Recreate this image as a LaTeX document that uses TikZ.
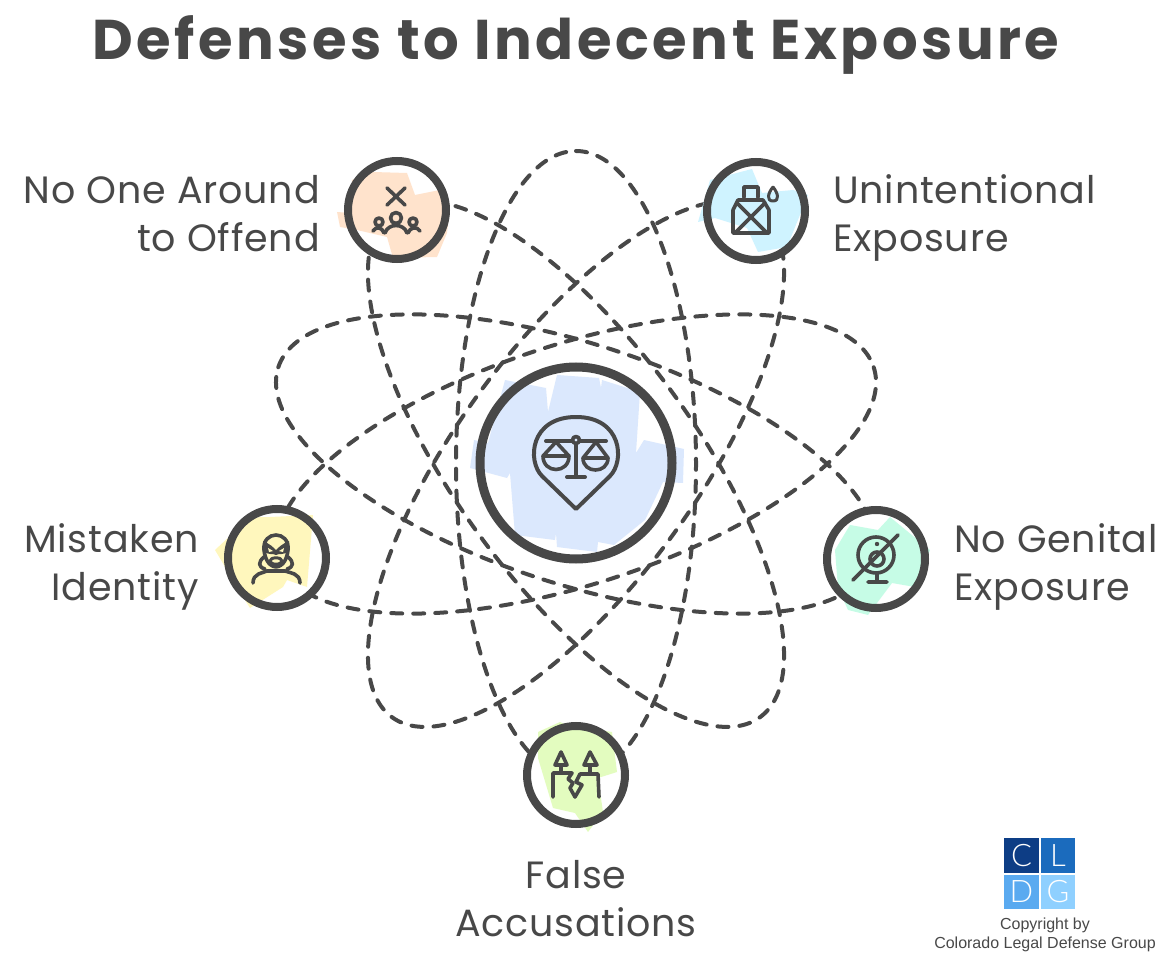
\documentclass[tikz,border=0pt]{standalone}
\usepackage{fontspec}
\setmainfont{Poppins}
\newfontfamily\logofont{Liberation Sans}
\newfontfamily\cellfont{Lato Light}
\usetikzlibrary{positioning}
\definecolor{ink}{HTML}{484848}
\definecolor{hubtone}{HTML}{DBE8FD}
\definecolor{crowdtone}{HTML}{FFE3CC}
\definecolor{bottletone}{HTML}{CFF3FF}
\definecolor{masktone}{HTML}{FFF7BD}
\definecolor{webcamtone}{HTML}{C6FCE6}
\definecolor{crackedtone}{HTML}{E3FCBF}
\tikzset{
  orbit/.style={draw=ink,line width=4pt,line cap=round,dash pattern=on 11pt off 11pt},
  ring/.style={draw=ink,circle,inner sep=0pt,line width=8pt},
  icon/.style={draw=ink,line width=3.6pt,line cap=round,line join=round},
  caption/.style={text=ink,inner sep=0pt,font=\fontsize{38}{48}\selectfont\addfontfeature{LetterSpace=2.2}},
  logocell/.style={minimum size=34.5pt,inner sep=0pt,text=white,font=\cellfont\fontsize{31}{31}\selectfont}
}
\begin{document}
\begin{tikzpicture}[x=1pt,y=-1pt]
  \useasboundingbox (0,0) rectangle (1170,957);
  \coordinate (centre) at (576,464);
  \def \Spots{
    hub/576/463/192/9,
    crowd/397/210/98/8,
    bottle/756/211/98/8,
    mask/277/558/98/8,
    webcam/876/559/98/8,
    cracked/576/775/98/8}
  \foreach \ang in {18,54,90,126,162}{
    \draw[orbit,rotate around={\ang:(centre)}] (centre) ellipse (313 and 120);
  }
  \foreach \id / \x / \y / \d / \w in \Spots{
    \fill[white] (\x,\y) circle (\d/2);
  }
  \fill[hubtone] (505,380) -- (546,388) -- (548,412) -- (557,375) -- (599,378) -- (601,388) -- (602,380) -- (640,392) -- (636,453) -- (644,440) -- (684,449) -- (683,483) -- (663,482) -- (645,520) -- (614,545) -- (598,542) -- (597,552) -- (557,547) -- (556,533) -- (555,540) -- (515,535) -- (510,473) -- (507,478) -- (470,468) -- (474,440) -- (488,443) -- cycle;
  \fill[crowdtone] (373,172) -- (407,173) -- (415,195) -- (445,189) -- (450,207) -- (447,233) -- (437,257) -- (393,258) -- (387,237) -- (357,230) -- (340,227) -- (337,212) -- (350,213) -- (352,180) -- cycle;
  \fill[bottletone] (752,169) -- (762,193) -- (793,190) -- (808,195) -- (787,247) -- (758,252) -- (747,228) -- (715,218) -- (698,222) -- (710,180) -- cycle;
  \fill[masktone] (215,550) -- (247,520) -- (260,517) -- (270,517) -- (313,515) -- (307,587) -- (287,580) -- (283,587) -- (250,608) -- (243,597) -- cycle;
  \fill[webcamtone] (850,525) -- (878,530) -- (890,517) -- (930,550) -- (915,587) -- (892,583) -- (868,615) -- (848,610) -- (838,588) -- (835,550) -- cycle;
  \fill[crackedtone] (538,732) -- (560,722) -- (567,725) -- (612,732) -- (617,772) -- (598,778) -- (603,812) -- (588,832) -- (575,813) -- (553,808) -- (538,758) -- cycle;
  \foreach \id / \x / \y / \d / \w in \Spots{
    \node[ring,minimum size=\d pt,line width=\w pt] (\id) at (\x,\y) {};
  }
  % hub
  \draw[icon,line width=4pt] (576,509) -- (542,476) .. controls (527,461) and (530,417) .. (576,417) .. controls (622,417) and (625,461) .. (610,476) -- cycle;
  \draw[icon,line width=4pt] (546,441) -- (606,441) (576,444) -- (576,477) (567,477) -- (585,477);
  \draw[icon,fill=hubtone] (576,440) circle (3.5);
  \draw[icon] (543,456) -- (556,442) -- (569,456) (583,458) -- (596,442) -- (608,458);
  \draw[icon] (543,456) -- (569,456) .. controls (569,474) and (543,474) .. (543,456);
  \draw[icon] (583,458) -- (608,458) .. controls (608,474) and (583,474) .. (583,458);
  % crowd
  \draw[icon] (387,188) -- (405,205) (405,188) -- (387,205);
  \draw[icon] (396,218) circle (5.5) (379,222) circle (4) (413,222) circle (4);
  \draw[icon] (373,231) .. controls (376,226) and (382,227) .. (384,233) (385,233) .. controls (388,223) and (404,223) .. (407,233) (408,233) .. controls (410,227) and (417,226) .. (420,231);
  % bottle
  \draw[icon] (744,197) -- (744,187) -- (758,187) -- (758,197);
  \draw[icon] (738,200) -- (763,200) -- (769,210) -- (769,233) -- (733,233) -- (733,210) -- cycle;
  \draw[icon] (737,203) -- (767,233) (765,203) -- (735,233);
  \draw[icon,line width=3pt] (773,187) .. controls (778,193) and (780,201) .. (773,201) .. controls (766,201) and (768,193) .. (773,187);
  % mask
  \draw[icon] (264,550) .. controls (262,530) and (290,530) .. (288,550) .. controls (287,558) and (284,566) .. (276,567) .. controls (268,566) and (265,558) .. (264,550);
  \fill[ink] (263,541) .. controls (270,544) and (273,547) .. (276,550) .. controls (279,547) and (282,544) .. (289,541) -- (289,551) .. controls (282,556) and (279,553) .. (276,555) .. controls (273,553) and (270,556) .. (263,551) -- cycle;
  \fill[masktone] (268,548) -- (273,551) -- (269,552) -- cycle (284,548) -- (279,551) -- (283,552) -- cycle;
  \draw[icon,line width=3pt] (276,561) ellipse (6 and 3.2);
  \draw[icon] (264,557) .. controls (258,562) and (258,567) .. (265,569) (288,557) .. controls (294,562) and (294,567) .. (287,569);
  \draw[icon] (253,583) .. controls (253,573) and (263,573) .. (267,571) -- (285,571) .. controls (290,573) and (300,573) .. (300,583);
  % webcam
  \draw[icon] (876,555) circle (18) (877,559) circle (7);
  \fill[ink] (877,544) circle (2.2);
  \draw[icon] (877,573) -- (877,582) (868,582) -- (887,582) (853,580) -- (898,535);
  % cracked
  \draw[icon] (561,752) -- (555,765) -- (567,765) -- cycle (590,752) -- (584,765) -- (597,765) -- cycle;
  \draw[icon] (561,765) -- (561,772) (590,765) -- (590,772);
  \draw[icon] (553,797) -- (553,773) -- (572,773) -- (568,779) -- (573,783) -- (570,788) -- (575,797) -- (582,785) -- (576,782) -- (580,774) -- (598,774) -- (599,797);
  % texts
  \node[text=ink,inner sep=0pt,font=\bfseries\fontsize{56}{60}\selectfont\addfontfeature{LetterSpace=6.3}] (heading) at (576,45) {Defenses to Indecent Exposure};
  \node[caption,anchor=east,align=right] (crowdtext) at (320,214) {No One Around\\to Offend};
  \node[caption,anchor=west,align=left] (bottletext) at (833,218) {Unintentional\\Exposure};
  \node[caption,anchor=east,align=right] (masktext) at (199,567) {Mistaken\\Identity};
  \node[caption,anchor=west,align=left] (webcamtext) at (954,567) {No Genital\\Exposure};
  \node[caption,align=center] (crackedtext) at (576,899) {False\\Accusations};
  % logo
  \def \Cells{
    C/1021.5/855.5/0D3D85,
    L/1058/855.5/1B6BBD,
    D/1021.5/892/5AAAF0,
    G/1058/892/8FD0FF}
  \foreach \id / \x / \y / \c in \Cells{
    \definecolor{celltone}{HTML}{\c}
    \node[logocell,fill=celltone] (\id) at (\x,\y) {\id};
  }
  \node[text=ink,inner sep=0pt,font=\logofont\fontsize{16}{19}\selectfont,align=center] (copyright) at (1045,935) {Copyright by\\Colorado Legal Defense Group};
\end{tikzpicture}
\end{document}
